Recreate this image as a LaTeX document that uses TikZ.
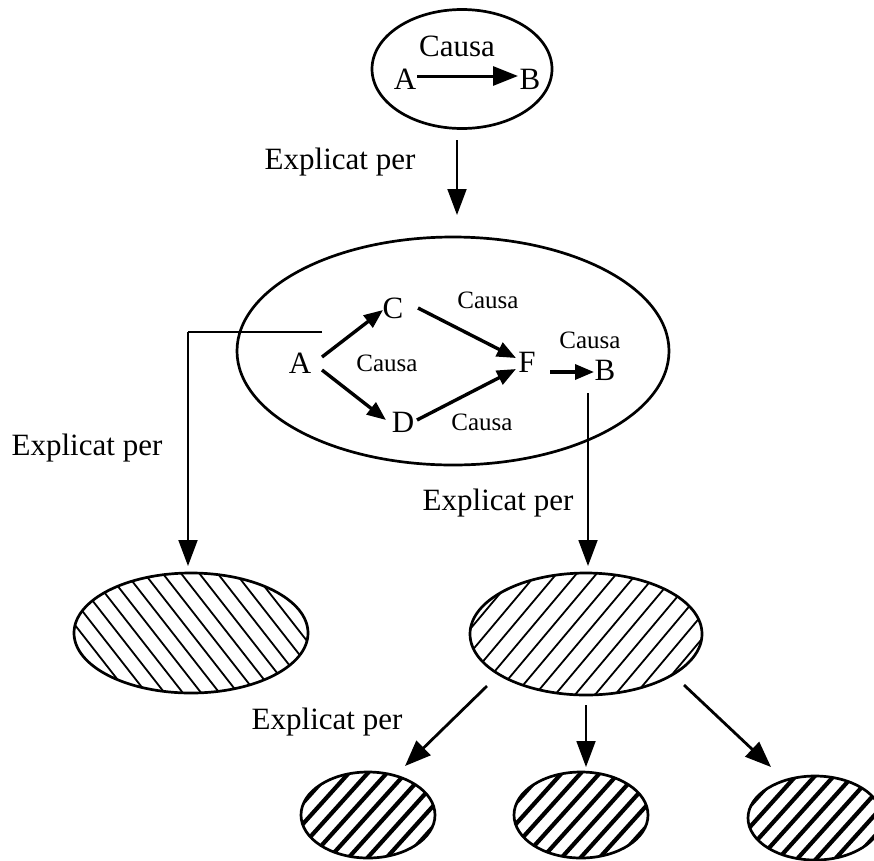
\documentclass[tikz,border=0pt]{standalone}
\usepackage{fontspec}
\setmainfont{Liberation Serif}
\usetikzlibrary{arrows.meta,shapes.geometric,calc}
\begin{document}
\begin{tikzpicture}[x=1pt,y=-1pt,
  lbl/.style={font=\fontsize{31}{31}\selectfont, inner sep=0pt},
  letter/.style={font=\fontsize{31}{31}\selectfont, inner sep=0pt},
  cause/.style={font=\fontsize{25}{25}\selectfont, inner sep=0pt},
  oval/.style={ellipse, draw, line width=2.7pt, inner sep=0pt, outer sep=0pt},
  % parallel hatching clipped to the node: line angle, horizontal step, line width
  hatch/.style n args={3}{path picture={
      \foreach \k in {-12,...,12}
        \draw[line width=#3]
          ([shift={({\k*#2+200pt*cos(#1)},{200pt*sin(#1)})}]path picture bounding box.center) --
          ([shift={({\k*#2-200pt*cos(#1)},{-200pt*sin(#1)})}]path picture bounding box.center);}},
  varr/.style={line width=1.9pt, -{Triangle[length=26pt,width=19pt]}},
  barr/.style={line width=2.8pt, -{Triangle[length=26pt,width=20pt]}},
  iarr/.style={line width=3.4pt, -{Triangle[length=19pt,width=15pt]}},
  topar/.style={line width=3pt, -{Triangle[length=25pt,width=19pt]}},
  link/.style={line width=2.2pt}
]
\useasboundingbox (0,0) rectangle (874,860);

% ---- top: A causes B
\node[oval, minimum width=180pt, minimum height=119pt] (top) at (462,69) {};
\node[letter] (tcausa) at (457,46) {Causa};
\node[letter] (tA) at (405,79) {A};
\node[letter] (tB) at (530,79) {B};
\draw[topar] ([xshift=12pt,yshift=3pt]tA.center) -- ([xshift=-12pt,yshift=3pt]tB.center);

\node[lbl] (ex1) at (340,162) {Explicat per};

% ---- middle: the causal chain
\node[oval, minimum width=432pt, minimum height=228pt] (big) at (453,351) {};
\node[letter] (A) at (300,363) {A};
\node[letter] (C) at (393,308) {C};
\node[letter] (D) at (403,422) {D};
\node[letter] (F) at (527,362) {F};
\node[letter] (B) at (605,370) {B};

\node[cause] (c1) at (488,300) {Causa};
\node[cause] (c2) at (387,363) {Causa};
\node[cause] (c3) at (482,422) {Causa};
\node[cause] (c4) at (590,340) {Causa};

\draw[iarr] ([shift={(22,-6)}]A.center) -- ([shift={(-10,2)}]C.center);
\draw[iarr] ([shift={(22,7)}]A.center) -- ([shift={(-17,-2)}]D.center);
\draw[iarr] ([shift={(25,0)}]C.center) -- ([shift={(-11,-4)}]F.center);
\draw[iarr] ([shift={(14,-2)}]D.center) -- ([shift={(-11,7)}]F.center);
\draw[iarr] ([shift={(23,10)}]F.center) -- ([shift={(-11,2)}]B.center);

% top ellipse explained by the chain
\coordinate (t1) at (457,140);
\coordinate (t2) at (457,215);
\draw[varr] (t1) -- (t2);

% ---- lower level
\node[oval, minimum width=234pt, minimum height=120pt, hatch={-52}{18.3pt}{1.8pt}] (lh) at (191,633) {};
\node[oval, minimum width=232pt, minimum height=122pt, hatch={50}{20pt}{1.8pt}] (rh) at (586,634) {};

\node[lbl] (ex2) at (87,448) {Explicat per};
\node[lbl] (ex3) at (498,503) {Explicat per};
\node[lbl] (ex4) at (327,722) {Explicat per};

\coordinate (l0) at (322,332);
\coordinate (l1) at (188,332);
\coordinate (l2) at (188,566);
\draw[link] (l0) -- (l1);
\draw[varr] (l1) -- (l2);

\coordinate (r1) at (588,393);
\coordinate (r2) at (588,566);
\draw[varr] (r1) -- (r2);

% ---- bottom level
\node[oval, minimum width=134pt, minimum height=86pt, hatch={48}{19pt}{4.2pt}] (s1) at (368,815) {};
\node[oval, minimum width=134pt, minimum height=86pt, hatch={48}{19pt}{4.2pt}] (s2) at (581,815) {};
\node[oval, minimum width=134pt, minimum height=84pt, hatch={48}{19pt}{4.2pt}] (s3) at (815,818) {};

\coordinate (b1) at (487,686);
\coordinate (b2) at (405,766);
\draw[barr] (b1) -- (b2);
\coordinate (m1) at (586,705);
\coordinate (m2) at (586,767);
\draw[varr] (m1) -- (m2);
\coordinate (q1) at (684,685);
\coordinate (q2) at (771,767);
\draw[barr] (q1) -- (q2);
\end{tikzpicture}
\end{document}
